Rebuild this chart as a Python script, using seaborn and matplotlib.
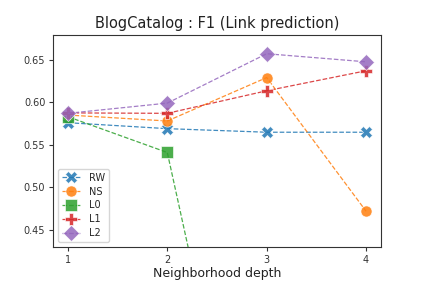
import matplotlib
matplotlib.use("Agg")
import matplotlib.pyplot as plt
import seaborn as sns
import pandas as pd

depth = [1, 2, 3, 4]
rw = [0.576, 0.569, 0.5648, 0.5648]
ns = [0.585, 0.578, 0.629, 0.472]
l0 = [0.583, 0.541, 0.01, 0.01]
l1 = [0.5875, 0.587, 0.6135, 0.637]
l2 = [0.587, 0.599, 0.657, 0.6475]
names = ["RW", "NS", "L0", "L1", "L2"]
markers = ["X", "o", "s", "P", "D"]
colors = ["#1f77b4", "#ff7f0e", "#2ca02c", "#d62728", "#9467bd"]

sns.set_style("white")
plt.rcParams['font.family'] = ['DejaVu Sans']

fig = plt.figure(figsize=(4.23, 2.82), dpi=100)
ax = fig.add_axes([53/423, 1-247/282, (381-53)/423, (247-35)/282])

for name, vals, m, c in zip(names, [rw, ns, l0, l1, l2], markers, colors):
    df = pd.DataFrame({"depth": depth, "f1": vals})
    sns.lineplot(data=df, x="depth", y="f1", ax=ax, marker=m, color=c,
                 linestyle="--", linewidth=0.9, markersize=8, label=name,
                 markeredgecolor="white", markeredgewidth=0.5)

for line in ax.get_lines():
    line.set_alpha(0.85)

ax.set_ylim(0.43, 0.679)
ax.set_xlim(0.85, 4.15)
ax.set_xticks(depth)
ax.set_yticks([0.45, 0.50, 0.55, 0.60, 0.65])
ax.set_yticklabels(["0.45", "0.50", "0.55", "0.60", "0.65"])
ax.tick_params(axis="both", labelsize=7, length=3, width=0.8, pad=2.5,
               colors="#333333", left=True, bottom=True)
for s in ax.spines.values():
    s.set_color("#333333")
    s.set_linewidth(0.8)
ax.set_xlabel("Neighborhood depth", fontsize=9, color="#222222", labelpad=2)
ax.set_ylabel("")
ax.set_title("BlogCatalog : F1 (Link prediction)", fontsize=10.5, color="#222222", pad=5)
leg = ax.legend(loc="lower left", fontsize=7, frameon=True, handlelength=2.0,
                borderpad=0.4, labelspacing=0.4)
fig.savefig("out.png", dpi=100)
